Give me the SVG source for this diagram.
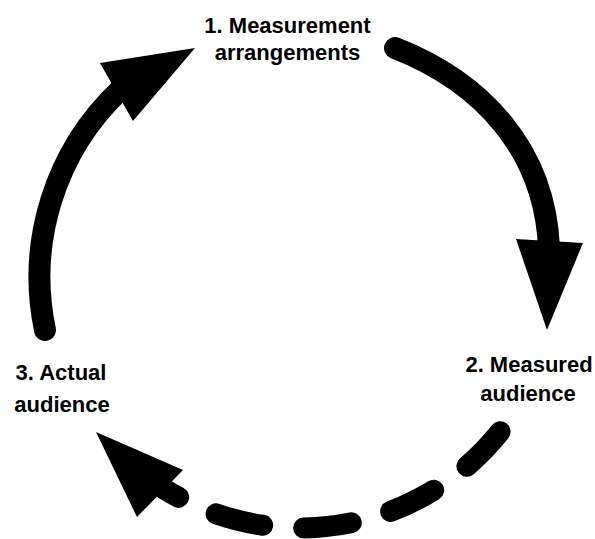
<svg xmlns="http://www.w3.org/2000/svg" width="595" height="539" viewBox="0 0 595 539">
  <style>
    .label { font-family: "Liberation Sans", Arial, Helvetica, sans-serif; font-weight: bold; font-size: 22px; fill: #000; text-anchor: middle; }
    .flow { fill: none; stroke: #000; stroke-width: 22; stroke-linecap: round; }
    .flow.dashed { stroke-width: 21; stroke-dasharray: 48 41; }
    .head { fill: #000; stroke: none; }
  </style>
  <rect width="595" height="539" fill="#fff"/>

  <!-- cycle connectors -->
  <g id="connectors">
    <!-- 1 -> 2 -->
    <path class="flow" d="M395,48 C482,82 545,150 549,248"/>
    <polygon class="head" points="516,239 583,243 547,330"/>
    <!-- 2 -> 3 (dashed) -->
    <path class="flow dashed" d="M500.1,431.7 A256,256 0 0 1 162.8,488.1"/>
    <polygon class="head" points="96,432 183,470 137,517"/>
    <!-- 3 -> 1 -->
    <path class="flow" d="M45,330 A258,258 0 0 1 121,89"/>
    <polygon class="head" points="100,63 133,121 195,48"/>
  </g>

  <g id="node-measurement-arrangements">
    <text class="label" x="287.5" y="33">1. Measurement</text>
    <text class="label" x="287.5" y="60">arrangements</text>
  </g>

  <g id="node-measured-audience">
    <text class="label" x="529" y="372">2. Measured</text>
    <text class="label" x="528" y="401">audience</text>
  </g>

  <g id="node-actual-audience">
    <text class="label" x="61" y="380">3. Actual</text>
    <text class="label" x="62" y="412">audience</text>
  </g>
</svg>
